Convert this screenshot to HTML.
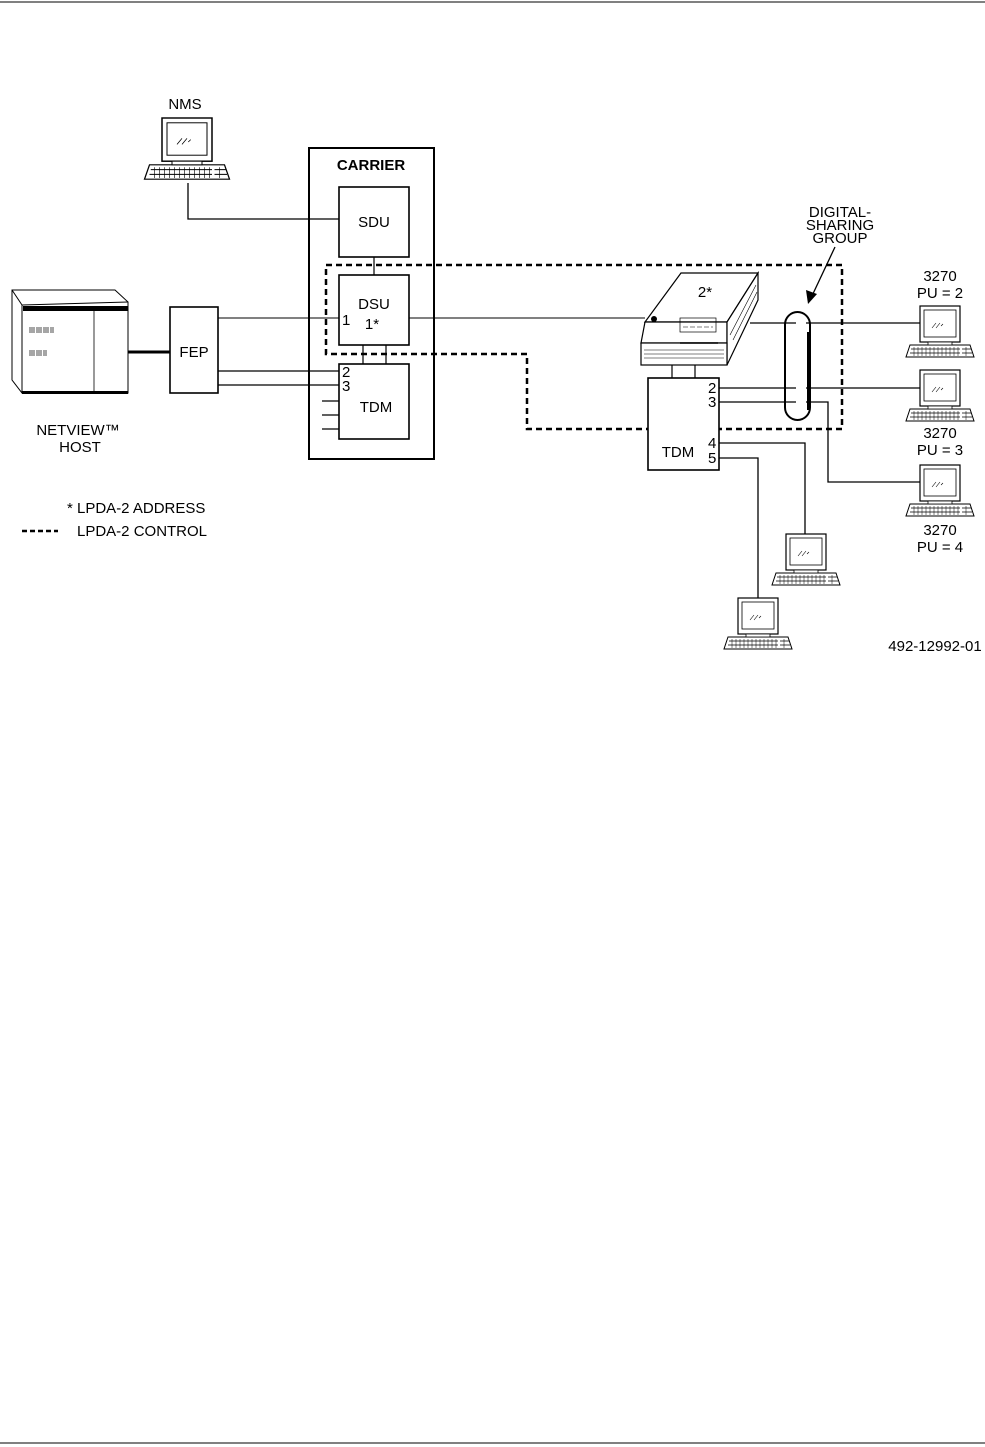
<!DOCTYPE html>
<html><head><meta charset="utf-8"><style>
html,body{margin:0;padding:0;background:#fff}
svg{display:block}
text{font-family:"Liberation Sans",sans-serif;font-size:15px;fill:#000}
</style></head><body>
<svg width="985" height="1447" viewBox="0 0 985 1447" xmlns="http://www.w3.org/2000/svg">
<defs>
<g id="term">
 <rect x="0" y="0" width="40" height="36" fill="#fff" stroke="#000" stroke-width="1.2"/>
 <rect x="4" y="4" width="32" height="27" fill="#fff" stroke="#000" stroke-width="0.8"/>
 <path d="M12 22 l4 -5 M16 22 l4 -5 M21 20 l2 -2" stroke="#000" stroke-width="0.6"/>
 <polygon points="-10,39 50,39 54,51 -14,51" fill="#fff" stroke="#000" stroke-width="1"/>
 <path d="M-9 43 H40 M-10 47 H40 M42 43 H51 M42 47 H52" stroke="#000" stroke-width="0.8"/>
 <path d="M-6 41 V50 M-2 41 V50 M2 41 V50 M6 41 V50 M10 41 V50 M14 41 V50 M18 41 V50 M22 41 V50 M26 41 V50 M30 41 V50 M34 41 V50 M38 41 V50 M46 41 V50" stroke="#000" stroke-width="0.5"/>
 <rect x="8" y="36" width="24" height="3" fill="#fff" stroke="#000" stroke-width="0.8"/>
</g>
</defs>
<line x1="0" y1="2" x2="985" y2="2" stroke="#000" stroke-width="1"/>
<line x1="0" y1="1443" x2="985" y2="1443" stroke="#000" stroke-width="1"/>

<!-- NMS -->
<text x="185" y="109" text-anchor="middle">NMS</text>
<g transform="translate(162,118) scale(1.25,1.2)"><use href="#term"/></g>
<polyline points="188,183 188,219 339,219" fill="none" stroke="#000" stroke-width="1.3"/>

<!-- carrier -->
<rect x="309" y="148" width="125" height="311" fill="none" stroke="#000" stroke-width="2"/>
<text x="371" y="170" text-anchor="middle" font-weight="bold">CARRIER</text>
<rect x="339" y="187" width="70" height="70" fill="#fff" stroke="#000" stroke-width="1.6"/>
<text x="374" y="227" text-anchor="middle">SDU</text>
<line x1="374" y1="257" x2="374" y2="275" stroke="#000" stroke-width="1.2"/>
<rect x="339" y="275" width="70" height="70" fill="#fff" stroke="#000" stroke-width="1.6"/>
<text x="374" y="309" text-anchor="middle">DSU</text>
<text x="372" y="329" text-anchor="middle">1*</text>
<text x="342" y="325" font-size="13">1</text>
<line x1="363" y1="345" x2="363" y2="364" stroke="#000" stroke-width="1.2"/>
<line x1="386" y1="345" x2="386" y2="364" stroke="#000" stroke-width="1.2"/>
<rect x="339" y="364" width="70" height="75" fill="#fff" stroke="#000" stroke-width="1.6"/>
<text x="376" y="412" text-anchor="middle">TDM</text>
<text x="342" y="377" font-size="13">2</text>
<text x="342" y="391" font-size="13">3</text>
<path d="M322 401 H339 M322 415 H339 M322 429 H339" stroke="#000" stroke-width="1.2"/>

<!-- host -->
<polygon points="12,290 115,290 128,302 128,393 22,393 12,380" fill="#fff" stroke="#000" stroke-width="1"/>
<line x1="12" y1="290" x2="22" y2="305" stroke="#000"/>
<line x1="22" y1="305" x2="22" y2="393" stroke="#000"/>
<line x1="22" y1="305" x2="128" y2="302" stroke="#000"/>
<rect x="23" y="306" width="105" height="5" fill="#000"/>
<line x1="94" y1="311" x2="94" y2="392" stroke="#000" stroke-width="0.8"/>
<rect x="22" y="391" width="106" height="3" fill="#000"/>
<g stroke="#000" stroke-width="0.7">
<path d="M30 327 V333 M32 327 V333 M34 327 V333 M37 327 V333 M39 327 V333 M41 327 V333 M44 327 V333 M46 327 V333 M48 327 V333 M51 327 V333 M53 327 V333"/>
<path d="M30 350 V356 M32 350 V356 M34 350 V356 M37 350 V356 M39 350 V356 M41 350 V356 M44 350 V356 M46 350 V356"/>
</g>
<text x="78" y="435" text-anchor="middle" font-size="16">NETVIEW™</text>
<text x="80" y="452" text-anchor="middle" font-size="16">HOST</text>
<line x1="128" y1="352" x2="170" y2="352" stroke="#000" stroke-width="3"/>
<rect x="170" y="307" width="48" height="86" fill="#fff" stroke="#000" stroke-width="1.6"/>
<text x="194" y="357" text-anchor="middle" font-size="16">FEP</text>
<line x1="218" y1="318" x2="339" y2="318" stroke="#000" stroke-width="1"/>
<line x1="218" y1="371" x2="339" y2="371" stroke="#000" stroke-width="1.3"/>
<line x1="218" y1="385" x2="339" y2="385" stroke="#000" stroke-width="1.3"/>
<line x1="409" y1="318" x2="645" y2="318" stroke="#000" stroke-width="1"/>

<!-- dashed box -->
<polyline points="326,265 842,265 842,429 527,429 527,354 326,354 326,265" fill="none" stroke="#000" stroke-width="2.5" stroke-dasharray="6,4"/>

<!-- modem -->
<polygon points="681,273 758,273 727,322 645,322" fill="#fff" stroke="#000" stroke-width="1.2"/>
<polygon points="645,322 727,322 727,343 641,343" fill="#fff" stroke="#000" stroke-width="1.2"/>
<polygon points="758,273 758,300 727,365 727,322" fill="#fff" stroke="#000" stroke-width="1.2"/>
<rect x="641" y="343" width="86" height="22" fill="#fff" stroke="#000" stroke-width="1.2"/>
<path d="M644 350 H724 M644 354 H724 M644 358 H724 M730 335 L756 285 M733 340 L757 292" stroke="#000" stroke-width="0.6"/>
<circle cx="654" cy="319" r="3" fill="#000"/>
<rect x="680" y="318" width="36" height="14" fill="none" stroke="#000" stroke-width="0.7"/>
<path d="M683 327 h30" stroke="#000" stroke-width="0.6" stroke-dasharray="5,2"/>
<line x1="680" y1="343" x2="718" y2="343" stroke="#000" stroke-width="1.5"/>
<text x="705" y="297" text-anchor="middle" font-size="16">2*</text>
<line x1="672" y1="365" x2="672" y2="378" stroke="#000" stroke-width="1.2"/>
<line x1="695" y1="365" x2="695" y2="378" stroke="#000" stroke-width="1.2"/>
<rect x="648" y="378" width="71" height="92" fill="#fff" stroke="#000" stroke-width="1.6"/>
<text x="678" y="457" text-anchor="middle" font-size="16">TDM</text>
<text x="708" y="393" font-size="14">2</text>
<text x="708" y="407" font-size="14">3</text>
<text x="708" y="448" font-size="14">4</text>
<text x="708" y="463" font-size="14">5</text>

<!-- connections -->
<g fill="none" stroke="#000" stroke-width="1.3">
<line x1="750" y1="323" x2="920" y2="323"/>
<line x1="719" y1="388" x2="920" y2="388"/>
<polyline points="719,402 828,402 828,482 920,482"/>
<polyline points="719,443 805,443 805,534"/>
<polyline points="719,458 758,458 758,598"/>
</g>
<g stroke="#fff" stroke-width="3">
<line x1="796" y1="323" x2="806" y2="323"/>
<line x1="796" y1="388" x2="806" y2="388"/>
<line x1="796" y1="402" x2="806" y2="402"/>
</g>
<rect x="785" y="312" width="25" height="108" rx="12.5" fill="none" stroke="#000" stroke-width="2"/>
<line x1="808" y1="332" x2="808" y2="410" stroke="#000" stroke-width="2"/>
<line x1="835" y1="247" x2="811" y2="298" stroke="#000" stroke-width="1.3"/>
<polygon points="808,304 806,290 817,294" fill="#000"/>
<text x="840" y="217" text-anchor="middle">DIGITAL-</text>
<text x="840" y="230" text-anchor="middle">SHARING</text>
<text x="840" y="243" text-anchor="middle">GROUP</text>

<!-- terminals -->
<g transform="translate(920,306)"><use href="#term"/></g>
<g transform="translate(920,370)"><use href="#term"/></g>
<g transform="translate(920,465)"><use href="#term"/></g>
<g transform="translate(786,534)"><use href="#term"/></g>
<g transform="translate(738,598)"><use href="#term"/></g>
<text x="940" y="281" text-anchor="middle" font-size="16">3270</text>
<text x="940" y="298" text-anchor="middle" font-size="16">PU = 2</text>
<text x="940" y="438" text-anchor="middle" font-size="16">3270</text>
<text x="940" y="455" text-anchor="middle" font-size="16">PU = 3</text>
<text x="940" y="535" text-anchor="middle" font-size="16">3270</text>
<text x="940" y="552" text-anchor="middle" font-size="16">PU = 4</text>
<text x="935" y="651" text-anchor="middle" font-size="12">492-12992-01</text>

<!-- legend -->
<text x="67" y="513" font-size="16">* LPDA-2 ADDRESS</text>
<line x1="22" y1="531" x2="58" y2="531" stroke="#000" stroke-width="2.5" stroke-dasharray="5,3"/>
<text x="77" y="536" font-size="16">LPDA-2 CONTROL</text>
</svg>
</body></html>
